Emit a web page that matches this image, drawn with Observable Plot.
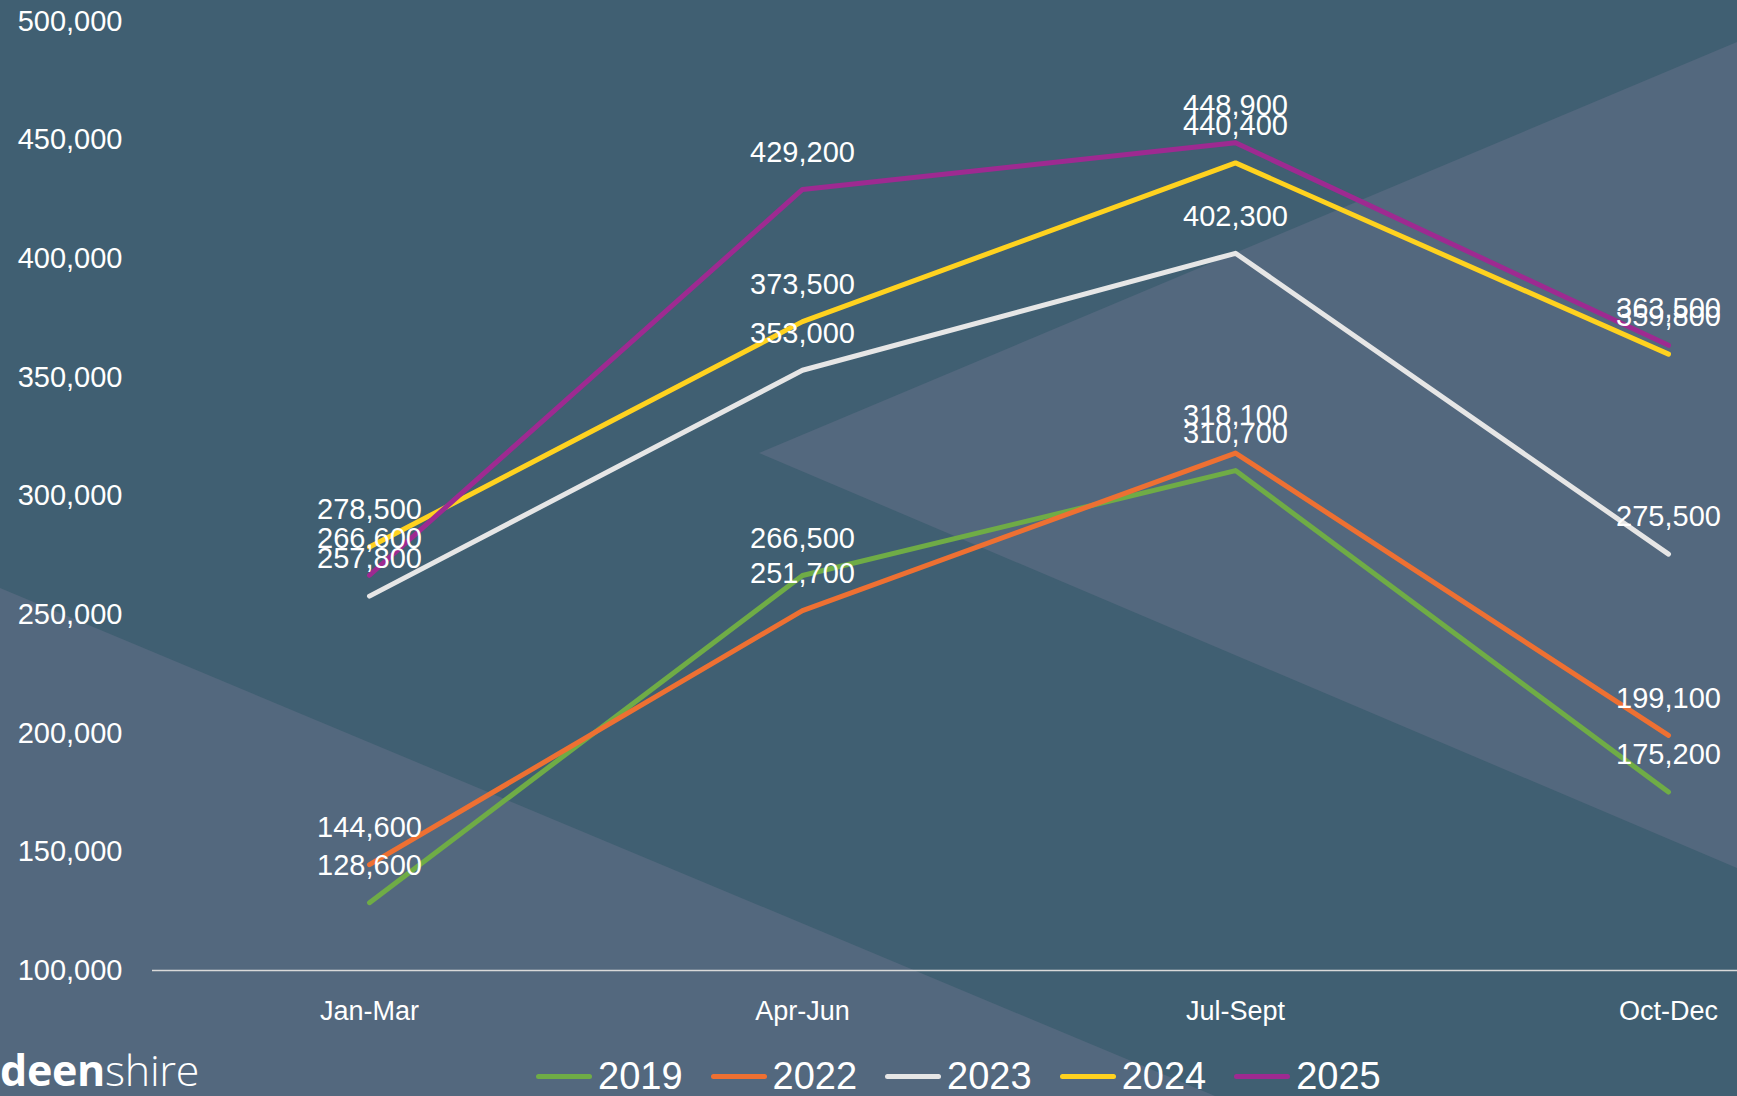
<!DOCTYPE html>
<html>
<head>
<meta charset="utf-8">
<script src="https://cdn.jsdelivr.net/npm/d3@7"></script>
<script src="https://cdn.jsdelivr.net/npm/@observablehq/plot@0.6"></script>
<style>
  html, body { margin: 0; padding: 0; background: #405f72; }
  #wrap { position: relative; width: 1737px; height: 1096px; overflow: hidden; background: #405f72; font-family: "Liberation Sans", Arial, sans-serif; }
  .shape { position: absolute; left: 0; top: 0; width: 1737px; height: 1096px; background: #53687e; }
  #shapeL { clip-path: polygon(0px 588px, 1215px 1096px, 0px 1096px); }
  #shapeR { clip-path: polygon(759px 453px, 1737px 42px, 1737px 868px); }
  #chart { position: absolute; left: 0; top: 0; }
  #legend { position: absolute; left: 536px; top: 1058px; display: flex; align-items: center; color: #fff; font-size: 38px; line-height: 36px; }
  .item { display: flex; align-items: center; margin-right: 28px; }
  .sw { width: 56px; height: 5px; border-radius: 3px; margin-right: 6px; }
  #logo { position: absolute; left: 0; top: 1048px; color: #fff; font-family: "Open Sans", sans-serif; font-size: 43px; line-height: 44px; letter-spacing: -0.3px; }
  #logo b { font-weight: 700; }
  #logo span { font-weight: 300; }
</style>
</head>
<body>
<div id="wrap">
  <div class="shape" id="shapeL"></div>
  <div class="shape" id="shapeR"></div>
  <div id="chart"></div>
  <div id="logo"><b>deen</b><span>shire</span></div>
  <div id="legend"></div>
</div>
<script>
const quarters = ["Jan-Mar", "Apr-Jun", "Jul-Sept", "Oct-Dec"];
const years = ["2019", "2022", "2023", "2024", "2025"];
const v2019 = [128600, 266500, 310700, 175200];
const v2022 = [144600, 251700, 318100, 199100];
const v2023 = [257800, 353000, 402300, 275500];
const v2024 = [278500, 373500, 440400, 359800];
const v2025 = [266600, 429200, 448900, 363500];
const yTicks = [100000, 150000, 200000, 250000, 300000, 350000, 400000, 450000, 500000];
const colors = ["#6fac46", "#ee7032", "#e6e6e6", "#ffd21f", "#9e2a91"];

const series = [v2019, v2022, v2023, v2024, v2025];
const rows = [];
years.forEach((yr, i) => {
  quarters.forEach((q, j) => rows.push({year: yr, quarter: q, value: series[i][j]}));
});

const fmt = d3.format(",");

const chart = Plot.plot({
  width: 1737,
  height: 1040,
  marginLeft: 152,
  marginRight: 0,
  marginTop: 21,
  marginBottom: 70,
  style: {background: "transparent", color: "#ffffff", fontFamily: "'Liberation Sans', Arial, sans-serif", fontSize: "27px"},
  x: {type: "point", domain: quarters, range: [368, 1669], padding: 0, label: null},
  y: {domain: [100000, 500000], label: null},
  color: {domain: years, range: colors},
  marks: [
    Plot.ruleY([100000], {stroke: "#d9d9d9", strokeWidth: 1.6}),
    Plot.axisY({ticks: yTicks, tickFormat: fmt, tickSize: 0, tickPadding: 30, label: null, fill: "#ffffff", fontSize: 29}),
    Plot.axisX({tickSize: 0, tickPadding: 30, label: null, fill: "#ffffff", fontSize: 27}),
    Plot.line(rows, {x: "quarter", y: "value", z: "year", stroke: "year", strokeWidth: 5, strokeLinecap: "round", strokeLinejoin: "round"}),
    Plot.text(rows, {x: "quarter", y: "value", text: d => fmt(d.value), dy: -37, fill: "#ffffff", fontSize: 29})
  ]
});
document.getElementById("chart").appendChild(chart);

const legend = document.getElementById("legend");
years.forEach((yr, i) => {
  const it = document.createElement("div");
  it.className = "item";
  const sw = document.createElement("div");
  sw.className = "sw";
  sw.style.background = colors[i];
  const t = document.createElement("span");
  t.textContent = yr;
  it.appendChild(sw);
  it.appendChild(t);
  legend.appendChild(it);
});
</script>
</body>
</html>
